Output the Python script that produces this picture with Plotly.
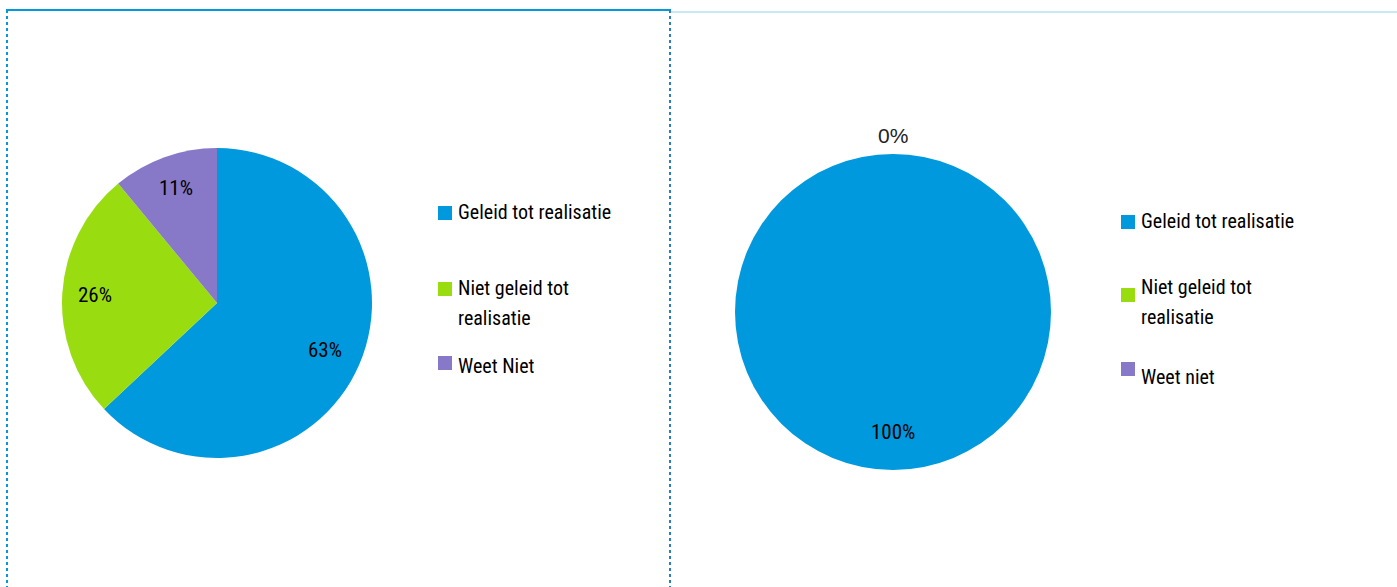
import math
import plotly.graph_objects as go

W, H = 1397, 587

categories_left = ["Geleid tot realisatie", "Niet geleid tot realisatie", "Weet Niet"]
values_left = [63, 26, 11]
categories_right = ["Geleid tot realisatie", "Niet geleid tot realisatie", "Weet niet"]
values_right = [100, 0, 0]
legend_text_left = ["Geleid tot realisatie", "Niet geleid tot<br>realisatie", "Weet Niet"]
legend_text_right = ["Geleid tot realisatie", "Niet geleid tot<br>realisatie", "Weet niet"]

colors = ["#0099DD", "#99DD11", "#8878C8"]
FONT = "Roboto Condensed, Liberation Sans Narrow, sans-serif"
LINE_GAP = 30  # px between legend text lines

# pie geometry in pixels (center x, center y from top, radius)
pies = [
    dict(cats=categories_left, vals=values_left, cx=217, cy=303, r=155,
         leg_x=438, leg_sq=[213, 289, 363], leg_txt=[212, 288, 366], leg_txt_lab=legend_text_left),
    dict(cats=categories_right, vals=values_right, cx=893, cy=312, r=158,
         leg_x=1121, leg_sq=[222, 295, 369], leg_txt=[221, 287, 377], leg_txt_lab=legend_text_right),
]

fig = go.Figure()
annotations = []
shapes = []

for p in pies:
    cx, cy, r = p["cx"], p["cy"], p["r"]
    fig.add_trace(go.Pie(
        labels=p["cats"], values=p["vals"], sort=False, direction="clockwise",
        rotation=0, marker=dict(colors=colors, line=dict(width=0)),
        textinfo="none", showlegend=False, hoverinfo="label+percent",
        domain=dict(x=[(cx - r) / W, (cx + r) / W], y=[1 - (cy + r) / H, 1 - (cy - r) / H]),
    ))
    total = sum(p["vals"])
    cum = 0
    seen_zero = False
    for v in p["vals"]:
        frac = v / total
        mid = (cum + frac / 2) * 2 * math.pi
        cum += frac
        if v == 0:
            if seen_zero:
                continue
            seen_zero = True
            rr = 1.12 * r
            fnt = dict(family="Liberation Sans, Arial, sans-serif", size=21, color="#222222")
        else:
            rr = (0.76 if frac > 0.5 else 0.79) * r
            fnt = dict(family=FONT, size=21, color="#000000")
        tx = cx + rr * math.sin(mid)
        ty = cy - rr * math.cos(mid)
        annotations.append(dict(
            x=tx / W, y=1 - ty / H, xref="paper", yref="paper", showarrow=False,
            text=f"{round(frac * 100)}%", font=fnt, xanchor="center", yanchor="middle"))
    # manual legend
    for i, c in enumerate(colors):
        sy = p["leg_sq"][i]
        shapes.append(dict(type="rect", xref="paper", yref="paper",
                           x0=p["leg_x"] / W, x1=(p["leg_x"] + 14) / W,
                           y0=1 - (sy + 7) / H, y1=1 - (sy - 7) / H,
                           fillcolor=c, line=dict(width=0)))
        for k, line in enumerate(p["leg_txt_lab"][i].split("<br>")):
            annotations.append(dict(
                x=(p["leg_x"] + 18) / W, y=1 - (p["leg_txt"][i] + k * LINE_GAP) / H,
                xref="paper", yref="paper",
                showarrow=False, text=line, align="left",
                xanchor="left", yanchor="middle",
                font=dict(family=FONT, size=20, color="#000000")))

# panel borders
shapes += [
    dict(type="line", xref="paper", yref="paper", x0=6 / W, x1=671 / W, y0=1 - 10 / H, y1=1 - 10 / H,
         line=dict(color="#0099DD", width=2)),
    dict(type="line", xref="paper", yref="paper", x0=7 / W, x1=7 / W, y0=1 - 10 / H, y1=0,
         line=dict(color="#0099DD", width=2, dash="dot")),
    dict(type="line", xref="paper", yref="paper", x0=670 / W, x1=670 / W, y0=1 - 10 / H, y1=0,
         line=dict(color="#2A7FC0", width=2, dash="dot")),
    dict(type="line", xref="paper", yref="paper", x0=671 / W, x1=1397 / W, y0=1 - 12 / H, y1=1 - 12 / H,
         line=dict(color="#8FD0EA", width=1)),
]

fig.update_layout(
    width=W, height=H, margin=dict(l=0, r=0, t=0, b=0),
    paper_bgcolor="white", plot_bgcolor="white",
    annotations=annotations, shapes=shapes,
)

fig.write_html("out.html", config={"displayModeBar": False},
               post_script="document.body.style.margin='0px';")
